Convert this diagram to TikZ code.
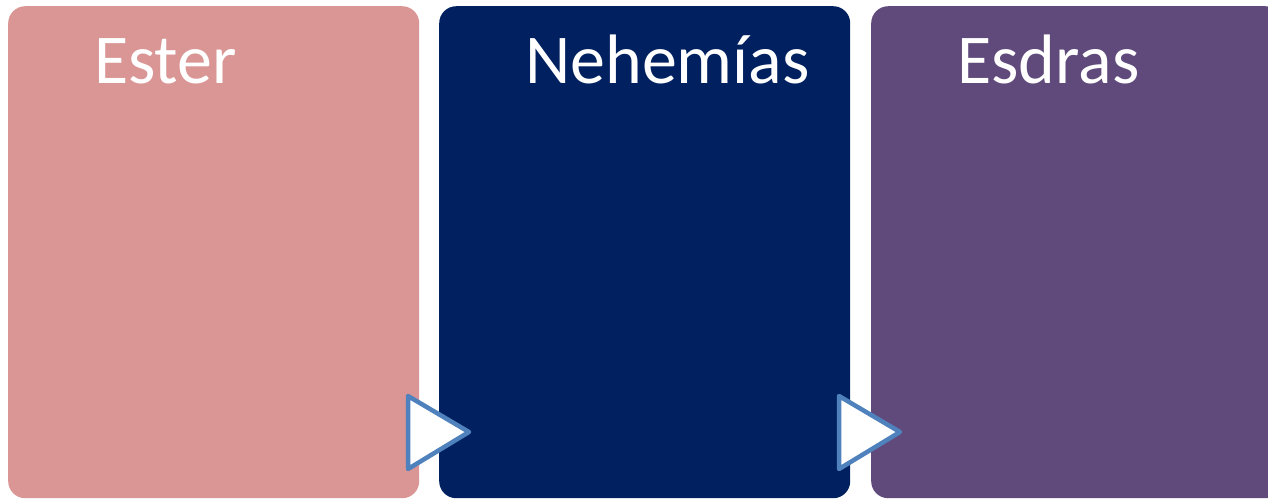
\documentclass[tikz,border=0pt]{standalone}
\usepackage{fontspec}
\setmainfont{Carlito}
\usetikzlibrary{positioning}

\definecolor{rosa}{HTML}{D99694}
\definecolor{marino}{HTML}{002060}
\definecolor{morado}{HTML}{604A7B}
\definecolor{azulflecha}{HTML}{4F81BD}

\tikzset{
  caja/.style={rectangle,rounded corners=17pt,inner sep=0pt,minimum width=411pt,minimum height=492pt,anchor=north west},
  titulo/.style={text=white,inner sep=0pt,anchor=base west,font=\fontsize{70}{84}\selectfont},
  flecha/.style={draw=azulflecha,fill=white,line width=4.5pt,line join=round}
}

\begin{document}
\begin{tikzpicture}[x=1pt,y=-1pt]
                    \useasboundingbox (0,0) rectangle (1268,499);
                    \clip (0,0) rectangle (1268,499);
                    \foreach \x/\nombre/\col/\texto in {8/ester/rosa/Ester,439/nehemias/marino/Nehemías,871/esdras/morado/Esdras}{
                            \node[caja,fill=\col] (\nombre) at (\x,6) {};
                            \node[titulo] (t\nombre) at (\x+86,83) {\texto};
                        }

                    \draw[flecha] (408,396) coordinate (a1) -- (469,432) -- (408,469) -- cycle;
                    \draw[flecha] (839,396) coordinate (a2) -- (900,432) -- (839,469) -- cycle;
                \end{tikzpicture}
\end{document}
